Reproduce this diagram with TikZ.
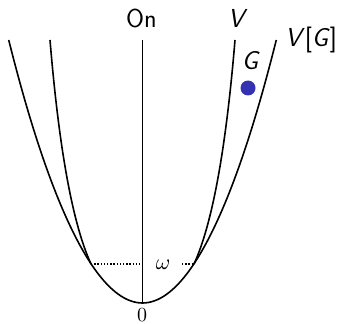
\documentclass[tikz,border=0pt]{standalone}
\usepackage{graphicx}
\usetikzlibrary{calc}
\definecolor{dotblue}{RGB}{51,51,178}
\begin{document}
\begin{tikzpicture}[x=1pt,y=-1pt,
  curve/.style={line width=1.6pt},
  axisline/.style={line width=0.8pt},
  dotline/.style={line width=1.4pt, dash pattern=on 1.4pt off 1.8pt},
  lab/.style={inner sep=0pt, anchor=base},
  bigsans/.style={font=\fontsize{26}{30}\selectfont\sffamily},
]
\useasboundingbox (0,0) rectangle (339,323);
% key points
\coordinate (top) at (142.5,40);
\coordinate (B) at (142.5,303);
\coordinate (L) at (91,264);
\coordinate (R) at (194,264);
\coordinate (OL) at (8.7,40);
\coordinate (OR) at (276.3,40);
\coordinate (IL) at (50,40);
\coordinate (IR) at (235,40);
\coordinate (dL) at (142.5,264);
\coordinate (dR) at (182,264);
% axis
\draw[axisline] (top) -- (B);
% outer V[G]
\draw[curve] (OL) parabola bend (B) (OR);
% inner V
\draw[curve] (L) .. controls (72.8,224.3) and (59.1,149.7) .. (IL);
\draw[curve] (R) .. controls (212.2,224.3) and (225.9,149.7) .. (IR);
% dotted omega level
\draw[dotline] (L) -- (dL);
\draw[dotline] (dR) -- (R);
% labels
\node[lab,bigsans] (on) at (141.5,28) {On};
\node[lab,bigsans] (v) at (236,28) {\itshape V};
\node[lab,bigsans] (vg) at (311,47) {\itshape V\textup{[}G\textup{]}};
\node[lab,bigsans] (g) at (250,70) {\itshape G};
\node[lab] (om) at (163,269) {\scalebox{2.2}{$\omega$}};
\node[lab] (zero) at (142,321) {\scalebox{2}{$0$}};
% generic
\fill[dotblue] (248,88) circle (7.5);
\end{tikzpicture}
\end{document}
